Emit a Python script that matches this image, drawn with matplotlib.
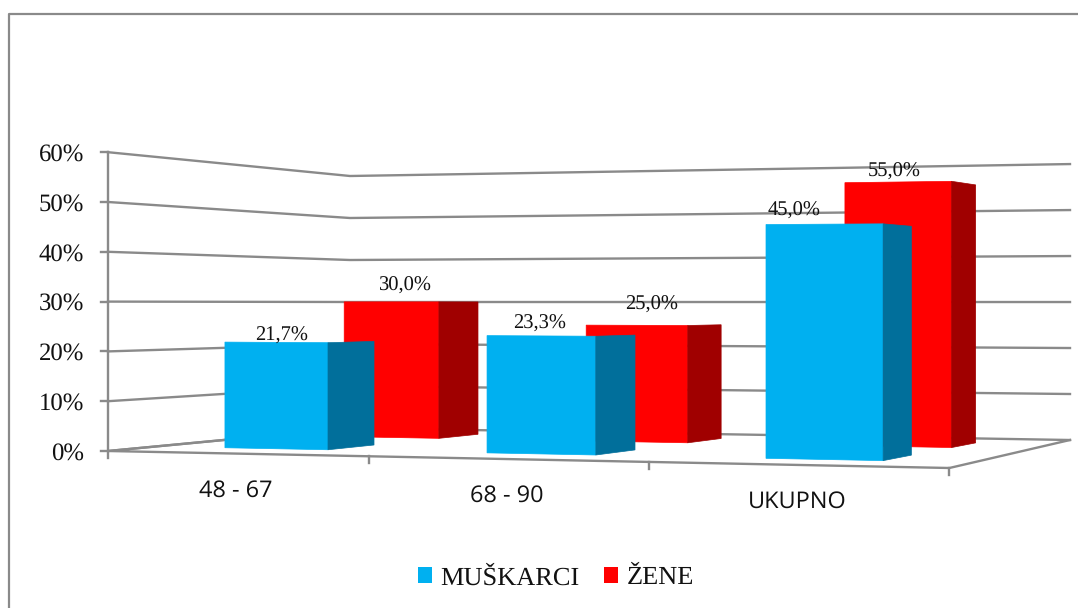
import numpy as np
import matplotlib
matplotlib.use("Agg")
import matplotlib.pyplot as plt
from matplotlib.patches import Polygon, Patch

plt.rcParams["text.hinting"] = "no_hinting"

# data
categories = ["48 - 67", "68 - 90", "UKUPNO"]
muskarci = [21.7, 23.3, 45.0]
zene = [30.0, 25.0, 55.0]
y_ticks = [0, 10, 20, 30, 40, 50, 60]

GRAY = "#8a8a8a"
BLUE, BLUE_SIDE = "#00b0f0", "#016f9b"
RED, RED_SIDE = "#ff0000", "#a00000"
SERIF = "Liberation Serif"
LINE = 1.7


# floor position u (0..3 along the categories), v (0 front, 1 back), height in percent -> pixels
def project(u, v, pct=0):
    x_front = 108 + 251.2 * u + 9.75 * u ** 2
    x_back = 350 + 240 * u
    y_front = 451 + 0.0202 * (x_front - 108)
    y_back = 428 + 4 * u
    scale_front = 4.98 + 0.17 * u
    scale_back = 4.2 + 0.133 * u
    x = x_front * (1 - v) + x_back * v
    y = y_front * (1 - v) + y_back * v
    return x, y - pct * (scale_front * (1 - v) + scale_back * v)


# where the bars stand on the floor (left, right) and how far they go back
blue_u = [(0.273, 0.675), (1.277, 1.677), (2.285, 2.692)]
red_u = [(0.293, 0.677), (1.267, 1.669), (2.283, 2.695)]
blue_v = (0.20, 0.40)
red_v = (0.68, 0.85)
# label shift from the middle of the front top edge
blue_shift = [(5, -7), (-2, -12), (-30, -13)]
red_shift = [(13, -16), (15, -21), (-4, -10)]

fig = plt.figure(figsize=(10.78, 6.08), dpi=100)
ax = fig.add_axes([0, 0, 1, 1])
ax.set_xlim(0, 1078)
ax.set_ylim(608, 0)
ax.axis("off")

# outer frame
ax.plot([9, 9, 1078], [608, 14, 14], color=GRAY, lw=1.6, zorder=1)

# walls
for p in y_ticks:
    pts = [project(0, 0, p), project(0, 1, p), project(3, 1, p)]
    ax.plot(*zip(*pts), color=GRAY, lw=LINE, zorder=2, solid_joinstyle="miter")
    x0, y0 = project(0, 0, p)
    ax.plot([x0 - 7, x0], [y0, y0], color=GRAY, lw=LINE, zorder=2)
    ax.text(84, y0 + 2.5, "%d%%" % p, ha="right", va="center", family=SERIF,
            fontsize=17.8, color="#111111", zorder=6)

x0, y0 = project(0, 0, 0)
x1, y1 = project(0, 0, y_ticks[-1])
ax.plot([x0, x1], [y0 + 7, y1], color=GRAY, lw=LINE, zorder=2)

# floor
floor = [project(0, 1), project(0, 0), project(3, 0), project(3, 1)]
ax.plot(*zip(*floor), color=GRAY, lw=LINE, zorder=2, solid_joinstyle="miter")

for i in range(len(categories) + 1):
    x, y = project(i, 0)
    if i > 0:
        ax.plot([x, x], [y, y + 7], color=GRAY, lw=LINE, zorder=2)
    if i < len(categories):
        xc, yc = project(i + 0.5, 0)
        ax.text(xc, yc + 37, categories[i], ha="center", va="center",
                family="Open Sans", fontsize=16.9, color="#111111", zorder=6)


def draw_bar(us, vs, value, front, side, z):
    (ul, ur), (vf, vb) = us, vs
    fl0, fr0, br0 = project(ul, vf), project(ur, vf), project(ur, vb)
    fl1, fr1, br1 = project(ul, vf, value), project(ur, vf, value), project(ur, vb, value)
    ax.add_patch(Polygon([fl0, fr0, fr1, fl1], fc=front, ec=front, lw=0.5, zorder=z))
    ax.add_patch(Polygon([fr0, br0, br1, fr1], fc=side, ec=side, lw=0.5, zorder=z))
    return (fl1[0] + fr1[0]) / 2, (fl1[1] + fr1[1]) / 2


def bar_label(pos, shift, value):
    txt = ("%.1f%%" % value).replace(".", ",")
    ax.text(pos[0] + shift[0], pos[1] + shift[1], txt, ha="center", va="center",
            family=SERIF, fontsize=14.8, color="#111111", zorder=7)


# red bars stand behind the blue ones
for i in range(len(categories)):
    top = draw_bar(red_u[i], red_v, zene[i], RED, RED_SIDE, 3)
    bar_label(top, red_shift[i], zene[i])
for i in range(len(categories)):
    top = draw_bar(blue_u[i], blue_v, muskarci[i], BLUE, BLUE_SIDE, 4)
    bar_label(top, blue_shift[i], muskarci[i])

handles = [Patch(fc=BLUE, ec="none", label="MUŠKARCI"), Patch(fc=RED, ec="none", label="ŽENE")]
ax.legend(handles=handles, ncols=2, frameon=False, loc="center", bbox_to_anchor=(556, 578),
          bbox_transform=ax.transData, prop={"family": SERIF, "size": 19}, handlelength=0.53,
          handleheight=0.53, handletextpad=0.3, columnspacing=0.95, labelcolor="#111111",
          borderpad=0, borderaxespad=0)

fig.savefig("out.png", dpi=100)
